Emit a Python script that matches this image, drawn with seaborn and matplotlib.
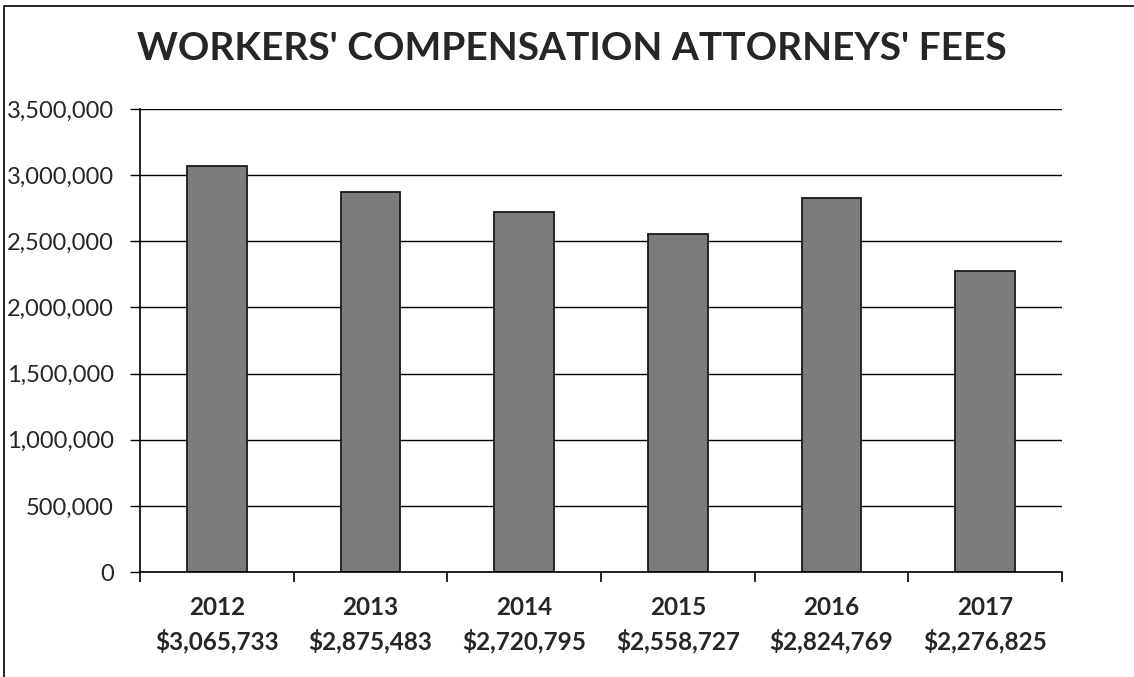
import matplotlib
matplotlib.use("Agg")
import matplotlib.pyplot as plt
import seaborn as sns
import pandas as pd
from matplotlib.ticker import FuncFormatter, FixedLocator
from matplotlib.patches import Rectangle

years = ["2012", "2013", "2014", "2015", "2016", "2017"]
fees = [3065733, 2875483, 2720795, 2558727, 2824769, 2276825]
title = "WORKERS' COMPENSATION ATTORNEYS' FEES"

labels = [f"{y}\n${v:,}" for y, v in zip(years, fees)]
df = pd.DataFrame({"label": labels, "fees": fees})

sns.set_style("white")
plt.rcParams['font.family'] = ['Lato', 'DejaVu Sans']

fig = plt.figure(figsize=(11.34, 6.77), dpi=100)
ax = fig.add_axes([0.1235, 0.155, 0.813, 0.684])

sns.barplot(data=df, x="label", y="fees", ax=ax, color="#7c7c7c",
            edgecolor="#1a1a1a", linewidth=1.3, width=0.39, saturation=1)

ax.set_ylim(0, 3500000)
ax.set_xlim(-0.5, 5.5)
ax.set_yticks(range(0, 3500001, 500000))
ax.yaxis.set_major_formatter(FuncFormatter(lambda v, p: f"{int(v):,}"))
ax.yaxis.grid(True, color="black", linewidth=1.0)
ax.set_axisbelow(True)
for s in ["top", "right"]:
    ax.spines[s].set_visible(False)
for s in ["left", "bottom"]:
    ax.spines[s].set_color("black")
    ax.spines[s].set_linewidth(1.2)
ax.set_xlabel("")
ax.set_ylabel("")
ax.tick_params(axis="y", which="major", length=7, width=1, color="black",
               labelsize=17, pad=12, left=True, direction="out")
ax.tick_params(axis="x", which="major", length=0, labelsize=17.5, pad=17)
ax.xaxis.set_minor_locator(FixedLocator([i - 0.5 for i in range(7)]))
ax.tick_params(axis="x", which="minor", length=7, width=1.2, color="black",
               bottom=True, direction="out")
for t in ax.get_xticklabels():
    t.set_fontweight("bold")
    t.set_linespacing(1.5)

fig.text(0.504, 0.928, title, ha="center", va="center",
         fontsize=28, fontweight="bold")

fig.patches.append(Rectangle((4 / 1134, -0.01), 1.2, 1 - 6 / 677 + 0.01,
                             transform=fig.transFigure, fill=False,
                             edgecolor="black", linewidth=1.2))

fig.savefig("out.png", dpi=100)
